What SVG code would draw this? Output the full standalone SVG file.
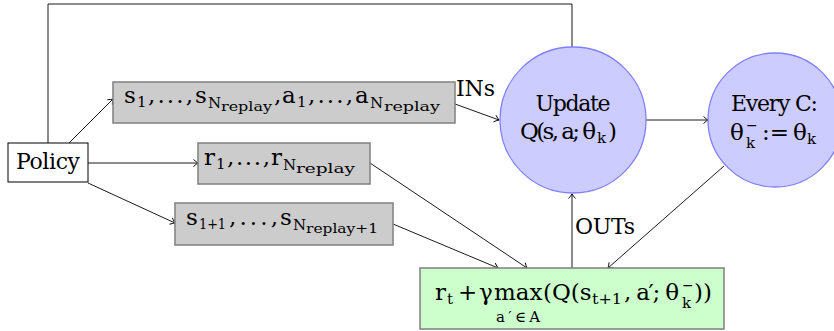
<svg xmlns="http://www.w3.org/2000/svg" width="834" height="331" viewBox="0 0 834 331">
  <defs>
    <marker id="arr" viewBox="-6 -5 8 10" refX="0" refY="0" markerWidth="8" markerHeight="10" markerUnits="userSpaceOnUse" orient="auto">
      <path d="M-4.5,-3.5 Q-1.5,-0.8 0,0 Q-1.5,0.8 -4.5,3.5" fill="none" stroke="#000" stroke-width="0.9"/>
    </marker>
  </defs>
  <style>
    text { font-family: "DejaVu Serif", "Liberation Serif", serif; fill: #000; }
    .m { font-size: 23px; }
    .s { font-size: 15px; }
    .sup { font-size: 14px; }
    .ss { font-size: 12px; }
    .lbl { font-size: 22px; }
    .mid { text-anchor: middle; }
    .data { fill: #cccccc; stroke: #868686; stroke-width: 1.6; }
    .proc { fill: #ccccff; stroke: #8080ff; stroke-width: 1.3; }
    .target { fill: #ccffcc; stroke: #868686; stroke-width: 1.6; }
    .plain { fill: #ffffff; stroke: #000; stroke-width: 1; }
    .edge { fill: none; stroke: #000; stroke-width: 0.9; }
  </style>
  <rect width="834" height="331" fill="#ffffff"/>

  <!-- connectors -->
  <g id="connectors">
    <path class="edge" d="M48,143 L48,4 L572,4 L572,47"/>
    <path class="edge" d="M69,143 L113,99" marker-end="url(#arr)"/>
    <path class="edge" d="M88,163 L198,163" marker-end="url(#arr)"/>
    <path class="edge" d="M88,183 L175,223" marker-end="url(#arr)"/>
    <path class="edge" d="M455,104 L499,120" marker-end="url(#arr)"/>
    <path class="edge" d="M646,120 L708,120" marker-end="url(#arr)"/>
    <path class="edge" d="M370,163 L527,268" marker-end="url(#arr)"/>
    <path class="edge" d="M393,224 L498,268" marker-end="url(#arr)"/>
    <path class="edge" d="M572,268 L572,194" marker-end="url(#arr)"/>
    <path class="edge" d="M724,166 L608,268" marker-end="url(#arr)"/>
    <text class="lbl" x="456" y="96" textLength="39">INs</text>
    <text class="lbl" x="575" y="234" textLength="60">OUTs</text>
  </g>

  <!-- policy -->
  <g id="policy">
    <rect class="plain" x="8" y="143" width="80" height="39"/>
    <text class="lbl" x="16" y="169" textLength="64">Policy</text>
  </g>

  <!-- states and actions from replay -->
  <g id="states-actions">
    <rect class="data" x="113" y="82" width="342" height="41"/>
    <text class="m" x="124" y="103">s</text>
    <text class="s" x="137" y="107">1</text>
    <text class="m" x="148" y="103" textLength="45">, . . . ,</text>
    <text class="m" x="195" y="103">s</text>
    <text class="s" x="208" y="108">N</text>
    <text class="ss" x="221" y="111" textLength="51" lengthAdjust="spacingAndGlyphs">replay</text>
    <text class="m" x="274" y="103">,</text>
    <text class="m" x="282" y="103">a</text>
    <text class="s" x="297" y="107">1</text>
    <text class="m" x="308" y="103" textLength="45">, . . . ,</text>
    <text class="m" x="355" y="103">a</text>
    <text class="s" x="370" y="108">N</text>
    <text class="ss" x="384" y="111" textLength="56" lengthAdjust="spacingAndGlyphs">replay</text>
  </g>

  <!-- rewards -->
  <g id="rewards">
    <rect class="data" x="198" y="143" width="172" height="41"/>
    <text class="m" x="204" y="165">r</text>
    <text class="s" x="216" y="169">1</text>
    <text class="m" x="227" y="165" textLength="43">, . . . ,</text>
    <text class="m" x="271" y="165">r</text>
    <text class="s" x="283" y="170">N</text>
    <text class="ss" x="296" y="173" textLength="59" lengthAdjust="spacingAndGlyphs">replay</text>
  </g>

  <!-- next states -->
  <g id="next-states">
    <rect class="data" x="175" y="203" width="218" height="42"/>
    <text class="m" x="186" y="225">s</text>
    <text class="s" x="199" y="229" textLength="27" lengthAdjust="spacingAndGlyphs">1+1</text>
    <text class="m" x="229" y="225" textLength="49">, . . . ,</text>
    <text class="m" x="280" y="225">s</text>
    <text class="s" x="293" y="230">N</text>
    <text class="ss" x="306" y="233" textLength="72" lengthAdjust="spacingAndGlyphs">replay+1</text>
  </g>

  <!-- Q update -->
  <g id="update">
    <circle class="proc" cx="573" cy="120" r="73"/>
    <text class="lbl mid" x="573" y="111" textLength="75">Update</text>
    <text class="m" x="520" y="139" textLength="76">Q(s, a; θ</text>
    <text class="s" x="597" y="143">k</text>
    <text class="m" x="608" y="139">)</text>
  </g>

  <!-- target network sync -->
  <g id="every-c">
    <circle class="proc" cx="775" cy="120" r="67"/>
    <text class="lbl mid" x="774.5" y="111" textLength="87">Every C:</text>
    <text class="m" x="730" y="140">θ</text>
    <text class="sup" x="746" y="130">−</text>
    <text class="s" x="746" y="148">k</text>
    <text class="m" x="762" y="140" textLength="27">:=</text>
    <text class="m" x="793" y="140">θ</text>
    <text class="s" x="807" y="144">k</text>
  </g>

  <!-- TD target -->
  <g id="target">
    <rect class="target" x="420" y="268" width="304" height="61"/>
    <text class="m" x="435" y="300">r</text>
    <text class="s" x="447" y="304">t</text>
    <text class="m" x="458" y="300">+</text>
    <text class="m" x="479" y="300">γ</text>
    <text class="m" x="494" y="300">max</text>
    <text class="s" x="496" y="322" textLength="44">a′∈A</text>
    <text class="m" x="543" y="300">(Q(s</text>
    <text class="s" x="592" y="304" textLength="30" lengthAdjust="spacingAndGlyphs">t+1</text>
    <text class="m" x="624" y="300" textLength="55">, a′; θ</text>
    <text class="sup" x="682" y="290">−</text>
    <text class="s" x="682" y="308">k</text>
    <text class="m" x="694" y="300">))</text>
  </g>
</svg>
